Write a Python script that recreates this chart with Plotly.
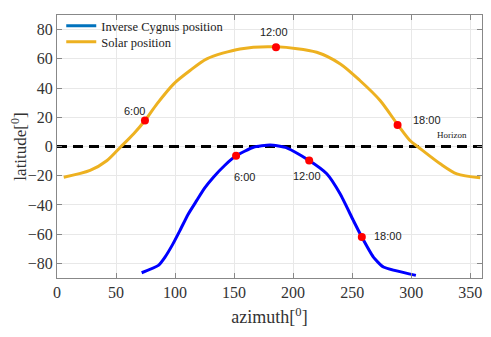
import plotly.graph_objects as go

# Solar position (azimuth, latitude)
sun_az = [5.7, 28, 42.4, 53.7, 65, 74.5, 84.7, 98.9, 112.7, 126.9, 155, 186, 220, 240, 256.8, 273.7, 288.7, 299, 306.2, 324.6, 338.7, 358.5]
sun_lat = [-21, -16.4, -9.6, -0.5, 8.7, 17.8, 29.2, 42.9, 52, 60, 66.8, 68.2, 64.5, 56.5, 45, 31.5, 14.8, 4.1, -0.5, -11.8, -18.7, -21.4]
# Inverse Cygnus position
cyg_az = [71.7, 85.9, 91.5, 98, 104.2, 111, 118.4, 125, 132.5, 142, 151.7, 166.4, 180.5, 194.6, 213.6, 228.5, 239.8, 251, 258.2, 268, 276.5, 304]
cyg_lat = [-86.4, -81.4, -75.7, -67, -57.4, -46.5, -36.9, -28.5, -21, -13, -6.4, -0.5, 1.0, -0.9, -9.6, -18.7, -32.4, -50.6, -62, -75.7, -82.5, -88.2]

sun_mark_az = [74.5, 185.5, 288.5]
sun_mark_lat = [17.8, 67.9, 14.8]
cyg_mark_az = [151.7, 213.6, 258.2]
cyg_mark_lat = [-6.4, -9.6, -62]
hour_labels = ["6:00", "12:00", "18:00"]

sun_lab_az = [66, 184, 313]
sun_lab_lat = [24, 78.5, 18]
cyg_lab_az = [159, 212, 280]
cyg_lab_lat = [-21, -20.5, -61.5]

x_ticks = [0, 50, 100, 150, 200, 250, 300, 350]
y_ticks = [-80, -60, -40, -20, 0, 20, 40, 60, 80]

fig = go.Figure()
fig.add_trace(go.Scatter(x=[0, 360], y=[0, 0], mode="lines",
                         line=dict(color="black", width=3, dash="10px,6px"), showlegend=False))
fig.add_trace(go.Scatter(x=cyg_az, y=cyg_lat, mode="lines", line_shape="spline",
                         line=dict(color="#0000FF", width=3, smoothing=0.5), showlegend=False))
fig.add_trace(go.Scatter(x=sun_az, y=sun_lat, mode="lines", line_shape="spline",
                         line=dict(color="#EDB120", width=3, smoothing=0.8), showlegend=False))
fig.add_trace(go.Scatter(x=[None], y=[None], mode="lines", name="Inverse Cygnus position",
                         line=dict(color="#0072BD", width=3), legend="legend"))
fig.add_trace(go.Scatter(x=[None], y=[None], mode="lines", name="Solar position",
                         line=dict(color="#EDB120", width=3), legend="legend2"))
fig.add_trace(go.Scatter(x=sun_mark_az + cyg_mark_az, y=sun_mark_lat + cyg_mark_lat, mode="markers",
                         marker=dict(color="red", size=8), showlegend=False))

for xs, ys in [(sun_lab_az, sun_lab_lat), (cyg_lab_az, cyg_lab_lat)]:
    for x, y, t in zip(xs, ys, hour_labels):
        fig.add_annotation(x=x, y=y, text=t, showarrow=False,
                           font=dict(family="Liberation Sans, Arial", size=11, color="#222"))
fig.add_annotation(x=335, y=8, text="Horizon", showarrow=False,
                   font=dict(family="Liberation Serif", size=9, color="#222"))

axis_common = dict(showline=True, linecolor="#888", linewidth=1, mirror="ticks",
                   ticks="inside", ticklen=5, tickcolor="#888",
                   showgrid=True, gridcolor="#e8e8e8", zeroline=False, automargin=False,
                   tickfont=dict(family="Liberation Serif", size=16, color="#333"))
fig.update_xaxes(range=[0, 360], tickvals=x_ticks,
                 title=dict(text="azimuth[<sup>0</sup>]", font=dict(family="Liberation Serif", size=18, color="#333"), standoff=10),
                 **axis_common)
fig.update_yaxes(range=[-90, 90], tickvals=y_ticks,
                 title=dict(text="latitude[<sup>0</sup>]", font=dict(family="Liberation Serif", size=17, color="#333"), standoff=4),
                 **axis_common)
leg_common = dict(xanchor="left", yanchor="middle", bgcolor="rgba(0,0,0,0)",
                  font=dict(family="Liberation Serif", size=12.5, color="#222"), itemwidth=30)
# page body has an 8px margin, so the figure is sized/shifted to compensate
fig.update_layout(width=483, height=329, margin=dict(l=49, r=9, t=7, b=59, autoexpand=False),
                  plot_bgcolor="white", paper_bgcolor="white",
                  legend=dict(x=0.01, y=0.958, **leg_common),
                  legend2=dict(x=0.01, y=0.897, **leg_common))
fig.write_html("out.html")
